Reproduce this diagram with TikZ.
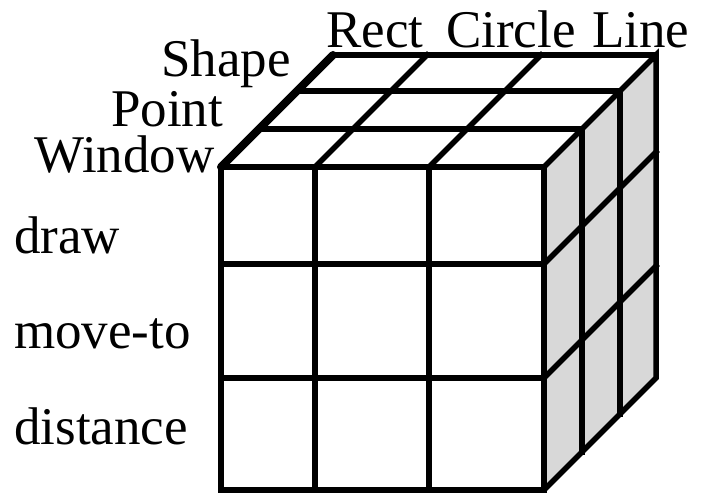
\documentclass[tikz,border=0pt]{standalone}
\usepackage{fontspec}
\setmainfont{Liberation Serif}
\usetikzlibrary{calc}
\definecolor{sidegray}{RGB}{216,216,216}
\tikzset{
  %% cube edges
  edge/.style={draw=black, line width=5.5pt, line join=miter},
  inner/.style={draw=black, line width=5.5pt, line cap=rect},
  %% the heavy left edge of the top face
  heavyedge/.style={draw=black, line width=8pt, line cap=round},
  sideface/.style={fill=sidegray},
  axislabel/.style={font=\fontsize{53}{53}\selectfont, inner sep=0pt,
    anchor=base west},
}

\begin{document}
\begin{tikzpicture}[x=1pt, y=1pt]

  %% ── Layout constants (pixels, y up) ──────────────────────────────────
  \def\XA{221}   % front face columns
  \def\XB{315}
  \def\XC{429}
  \def\XD{544}
  \def\YA{2}     % front face rows
  \def\YB{114}
  \def\YC{228}
  \def\YD{325}
  \def\DP{112}   % full depth

  \useasboundingbox (0,0) rectangle (703,492);

  %% ── Right face (shaded) ──────────────────────────────────────────────
  \path[sideface] (\XD,\YA) -- (\XD,\YD) -- (\XD+\DP,\YD+\DP)
        -- (\XD+\DP,\YA+\DP) -- cycle;

  %% ── Front face ───────────────────────────────────────────────────────
  \foreach \x in {\XB,\XC}
    \draw[inner] (\x,\YA) -- (\x,\YD);
  \foreach \y in {\YB,\YC}
    \draw[inner] (\XA,\y) -- (\XD,\y);
  \draw[edge] (\XA,\YA) rectangle (\XD,\YD);

  %% ── Top face ─────────────────────────────────────────────────────────
  \foreach \d in {38,76}
    \draw[inner] (\XA+\d,\YD+\d) -- (\XD+\d,\YD+\d);
  \foreach \x in {\XB,\XC}
    \draw[inner] (\x,\YD) -- (\x+\DP,\YD+\DP);

  %% ── Right face grid ──────────────────────────────────────────────────
  \foreach \d in {38,76}
    \draw[inner] (\XD+\d,\YA+\d) -- (\XD+\d,\YD+\d);
  \foreach \y in {\YB,\YC}
    \draw[inner] (\XD,\y) -- (\XD+\DP,\y+\DP);

  %% ── Outline ──────────────────────────────────────────────────────────
  \draw[edge] (\XD,\YD) -- (\XD+\DP,\YD+\DP) -- (\XD+\DP,\YA+\DP)
        -- (\XD,\YA);
  \draw[edge] (\XA+\DP,\YD+\DP) -- (\XD+\DP,\YD+\DP);
  \draw[heavyedge] (\XA,\YD) -- (\XA+\DP,\YD+\DP);

  %% ── Labels ───────────────────────────────────────────────────────────
  \node[axislabel] (rect)   at (326,444) {Rect};
  \node[axislabel] (circle) at (446,444) {Circle};
  \node[axislabel] (line)   at (592,444) {Line};

  \node[axislabel] (shape)  at (161,415) {Shape};
  \node[axislabel] (point)  at (111,365) {Point};
  \node[axislabel] (window) at (34,319)  {Window};

  \node[axislabel] (draw)     at (14,238) {draw};
  \node[axislabel] (moveto)   at (14,143) {move-to};
  \node[axislabel] (distance) at (14,47)  {distance};

\end{tikzpicture}
\end{document}
